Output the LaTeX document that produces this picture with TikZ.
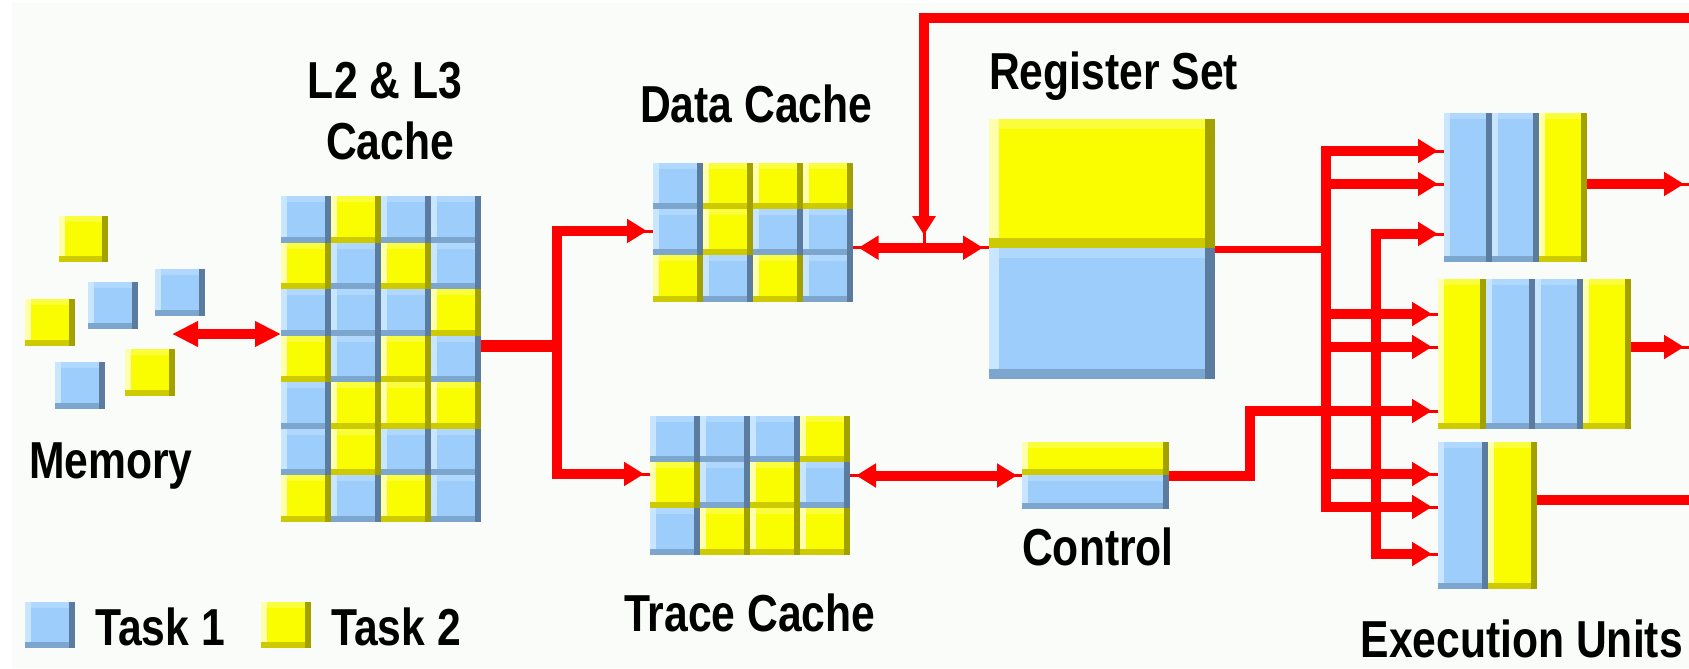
\documentclass[tikz,border=0pt]{standalone}
\usepackage{fontspec}
\setmainfont{Liberation Sans}[FakeStretch=0.82]
\usetikzlibrary{arrows.meta}

% bevelled tile colours: base, left highlight, top highlight, right shadow, bottom shadow
\definecolor{bbase}{HTML}{9CCDFB}
\definecolor{blt}{HTML}{C8E6FF}
\definecolor{btop}{HTML}{B0D8FF}
\definecolor{bdk}{HTML}{5B7C9F}
\definecolor{bbot}{HTML}{7CA6CD}
\definecolor{ybase}{HTML}{FAFD00}
\definecolor{ylt}{HTML}{FEFFAC}
\definecolor{ytop}{HTML}{FAFD3C}
\definecolor{ydk}{HTML}{A3A100}
\definecolor{ybot}{HTML}{CDCB00}
\definecolor{wred}{HTML}{FF0000}
\definecolor{paper}{HTML}{FAFCF9}

% one bevelled tile: top-left (#1,#2), bottom-right (#3,#4), kind #5 (b/y), bevel #6
\newcommand\bevelcell[6]{%
  \fill[#5base] (#1,#2) rectangle (#3,#4);
  \fill[#5top] (#1,#2) rectangle (#3,#2+#6);
  \fill[#5lt] (#1,#2) rectangle (#1+#6,#4);
  \fill[#5bot] (#1,#4-#6) rectangle (#3,#4);
  \fill[#5dk] (#3-#6,#2) rectangle (#3,#4);
}
% grid of tiles: origin (#1,#2), tile size #3 x #4, rows #5
\newcommand\cellgrid[5]{%
  \foreach \rowspec [count=\ri from 0] in {#5} {
    \foreach \cc [count=\ci from 0] in \rowspec {
      \edef\mkcell{\noexpand\bevelcell{#1+\ci*#3}{#2+\ri*#4}{#1+\ci*#3+#3}{#2+\ri*#4+#4}{\cc}{6}}
      \mkcell
    }
  }
}

\tikzset{
  blk/.style={draw=none, inner sep=0pt, outer sep=0pt, rectangle},
  lbl/.style={inner sep=0pt, font=\fontsize{52}{56}\selectfont\bfseries},
  wire/.style={draw=wred, line width=10pt, line cap=butt, line join=miter},
  hd/.tip={Triangle[length=20pt,width=23pt]},
  bighd/.tip={Triangle[length=26pt,width=24pt]},
  fbhd/.tip={Triangle[length=19pt,width=22.5pt]},
  stub/.style={preaction={draw=wred, line width=3pt, arrows=-, shorten >=0pt, shorten <=0pt}},
}

\begin{document}
\begin{tikzpicture}[x=1pt,y=-1pt]
\useasboundingbox (0,0) rectangle (1689,669);
\fill[white] (0,0) rectangle (1689,669);
\fill[paper] (12,3) rectangle (1689,668);

% ---- memory tiles ----
\bevelcell{59}{216}{108}{262}{y}{6}
\bevelcell{25}{299}{75}{346}{y}{6}
\bevelcell{88}{282}{138}{329}{b}{6}
\bevelcell{155}{269}{205}{316}{b}{6}
\bevelcell{55}{362}{105}{409}{b}{6}
\bevelcell{125}{349}{175}{396}{y}{6}
\node[lbl, anchor=base west] (memlbl) at (29,478) {Memory};

% ---- caches ----
\node[blk, minimum width=200, minimum height=326] (l2) at (381,359) {};
\cellgrid{281}{196}{50}{46.57}{{b,y,b,b},{y,b,y,b},{b,b,b,y},{y,b,y,b},{b,y,y,y},{b,y,b,b},{y,b,y,b}}
\node[lbl, anchor=base] (l2lbla) at (385,99) {L2 \& L3};
\node[lbl, anchor=base] (l2lblb) at (390,159) {Cache};

\node[blk, minimum width=200, minimum height=138.7] (dc) at (753,232.4) {};
\cellgrid{653}{163}{50}{46.23}{{b,y,y,y},{b,y,b,b},{y,b,y,b}}
\node[lbl, anchor=base west] (dclbl) at (640,122.7) {Data Cache};

\node[blk, minimum width=200, minimum height=138.7] (tc) at (750,485.4) {};
\cellgrid{650}{416}{50}{46.23}{{b,b,b,y},{y,b,y,b},{b,y,y,y}}
\node[lbl, anchor=base west] (tclbl) at (624,631.7) {Trace Cache};

% ---- register set and control ----
\node[blk, minimum width=226, minimum height=260] (rs) at (1102,249) {};
\bevelcell{989}{119}{1215}{248}{y}{10}
\bevelcell{989}{248}{1215}{379}{b}{10}
\node[lbl, anchor=base west] (rslbl) at (989,89) {Register Set};

\node[blk, minimum width=147, minimum height=67] (ctl) at (1095.5,475.5) {};
\bevelcell{1022}{442}{1169}{475}{y}{6}
\bevelcell{1022}{475}{1169}{509}{b}{6}
\node[lbl, anchor=base west] (ctllbl) at (1022,565) {Control};

% ---- execution units ----
\node[blk, minimum width=143, minimum height=149] (eu1) at (1515.5,187.5) {};
\cellgrid{1444}{113}{47.67}{149}{{b,b,y}}
\node[blk, minimum width=193, minimum height=150] (eu2) at (1534.5,354) {};
\cellgrid{1438}{279}{48.25}{150}{{y,b,b,y}}
\node[blk, minimum width=99, minimum height=147] (eu3) at (1487.5,515.5) {};
\cellgrid{1438}{442}{49.5}{147}{{b,y}}
\node[lbl, anchor=base east] (eulbl) at (1683,657) {Execution Units};

% ---- legend ----
\bevelcell{25}{602}{75}{648}{b}{6}
\node[lbl, anchor=base west] (t1lbl) at (95,645) {Task 1};
\bevelcell{261}{602}{311}{648}{y}{6}
\node[lbl, anchor=base west] (t2lbl) at (331,645) {Task 2};

% ---- junction points of the wiring ----
\coordinate (memtip) at (172,334);
\coordinate (tr) at (556.8,345.5);
\coordinate (fb) at (924,247.7);
\coordinate (topR) at (1689,18);
\coordinate (b1) at (1326,249);
\coordinate (b2) at (1376,411);
\coordinate (cb) at (1250,411);
\coordinate (o1) at (1689,184);
\coordinate (o2) at (1689,347);
\coordinate (o3) at (1689,500);

% memory <-> L2/L3
\draw[wire, {bighd}-{bighd}] (memtip) -- (l2.west |- memtip);

% L2/L3 -> data cache and trace cache
\draw[wire, line width=12pt] (l2.east |- tr) -- (tr);
\draw[wire, -hd, stub, shorten >=6pt] (tr) |- (dc.west |- 0,231);
\draw[wire, -hd, stub, shorten >=6pt] (tr) |- (tc.west |- 0,474);

% data cache <-> register set, with feedback from the top
\draw[wire, hd-hd, stub, shorten <=5.5pt, shorten >=6pt] (dc.east |- fb) -- (rs.west |- fb);
\draw[wire, line width=9.5pt, -fbhd, stub, shorten >=12.7pt] (topR) -| (fb);

% trace cache <-> control
\draw[wire, hd-hd, stub, shorten <=6pt, shorten >=5pt] (tc.east |- ctl.west) -- (ctl.west);

% register set -> issue bus
\draw[wire, line width=7pt] (rs.east) -- (b1);
\draw[wire, -hd, stub, shorten >=6pt] (b1) |- (eu1.west |- 0,151);
\draw[wire, -hd, stub, shorten >=6pt] (b1) |- (eu3.west |- 0,507);
\foreach \yy/\eu in {184/eu1,314/eu2,347/eu2,474/eu3}
  \draw[wire, -hd, stub, shorten >=6pt] (b1 |- 0,\yy) -- (\eu.west |- 0,\yy);

% control -> second bus and execution units
\draw[wire, -hd, stub, shorten >=6pt] (ctl.east) -| (cb) -- (eu2.west |- cb);
\draw[wire, -hd, stub, shorten >=6pt] (b2) |- (eu1.west |- 0,234);
\draw[wire, -hd, stub, shorten >=6pt] (b2) |- (eu3.west |- 0,554);

% execution unit outputs
\draw[wire, -hd, stub, shorten >=5pt] (eu1.east |- o1) -- (o1);
\draw[wire, -hd, stub, shorten >=5pt] (eu2.east |- o2) -- (o2);
\draw[wire] (eu3.east |- o3) -- (o3);
\end{tikzpicture}
\end{document}
